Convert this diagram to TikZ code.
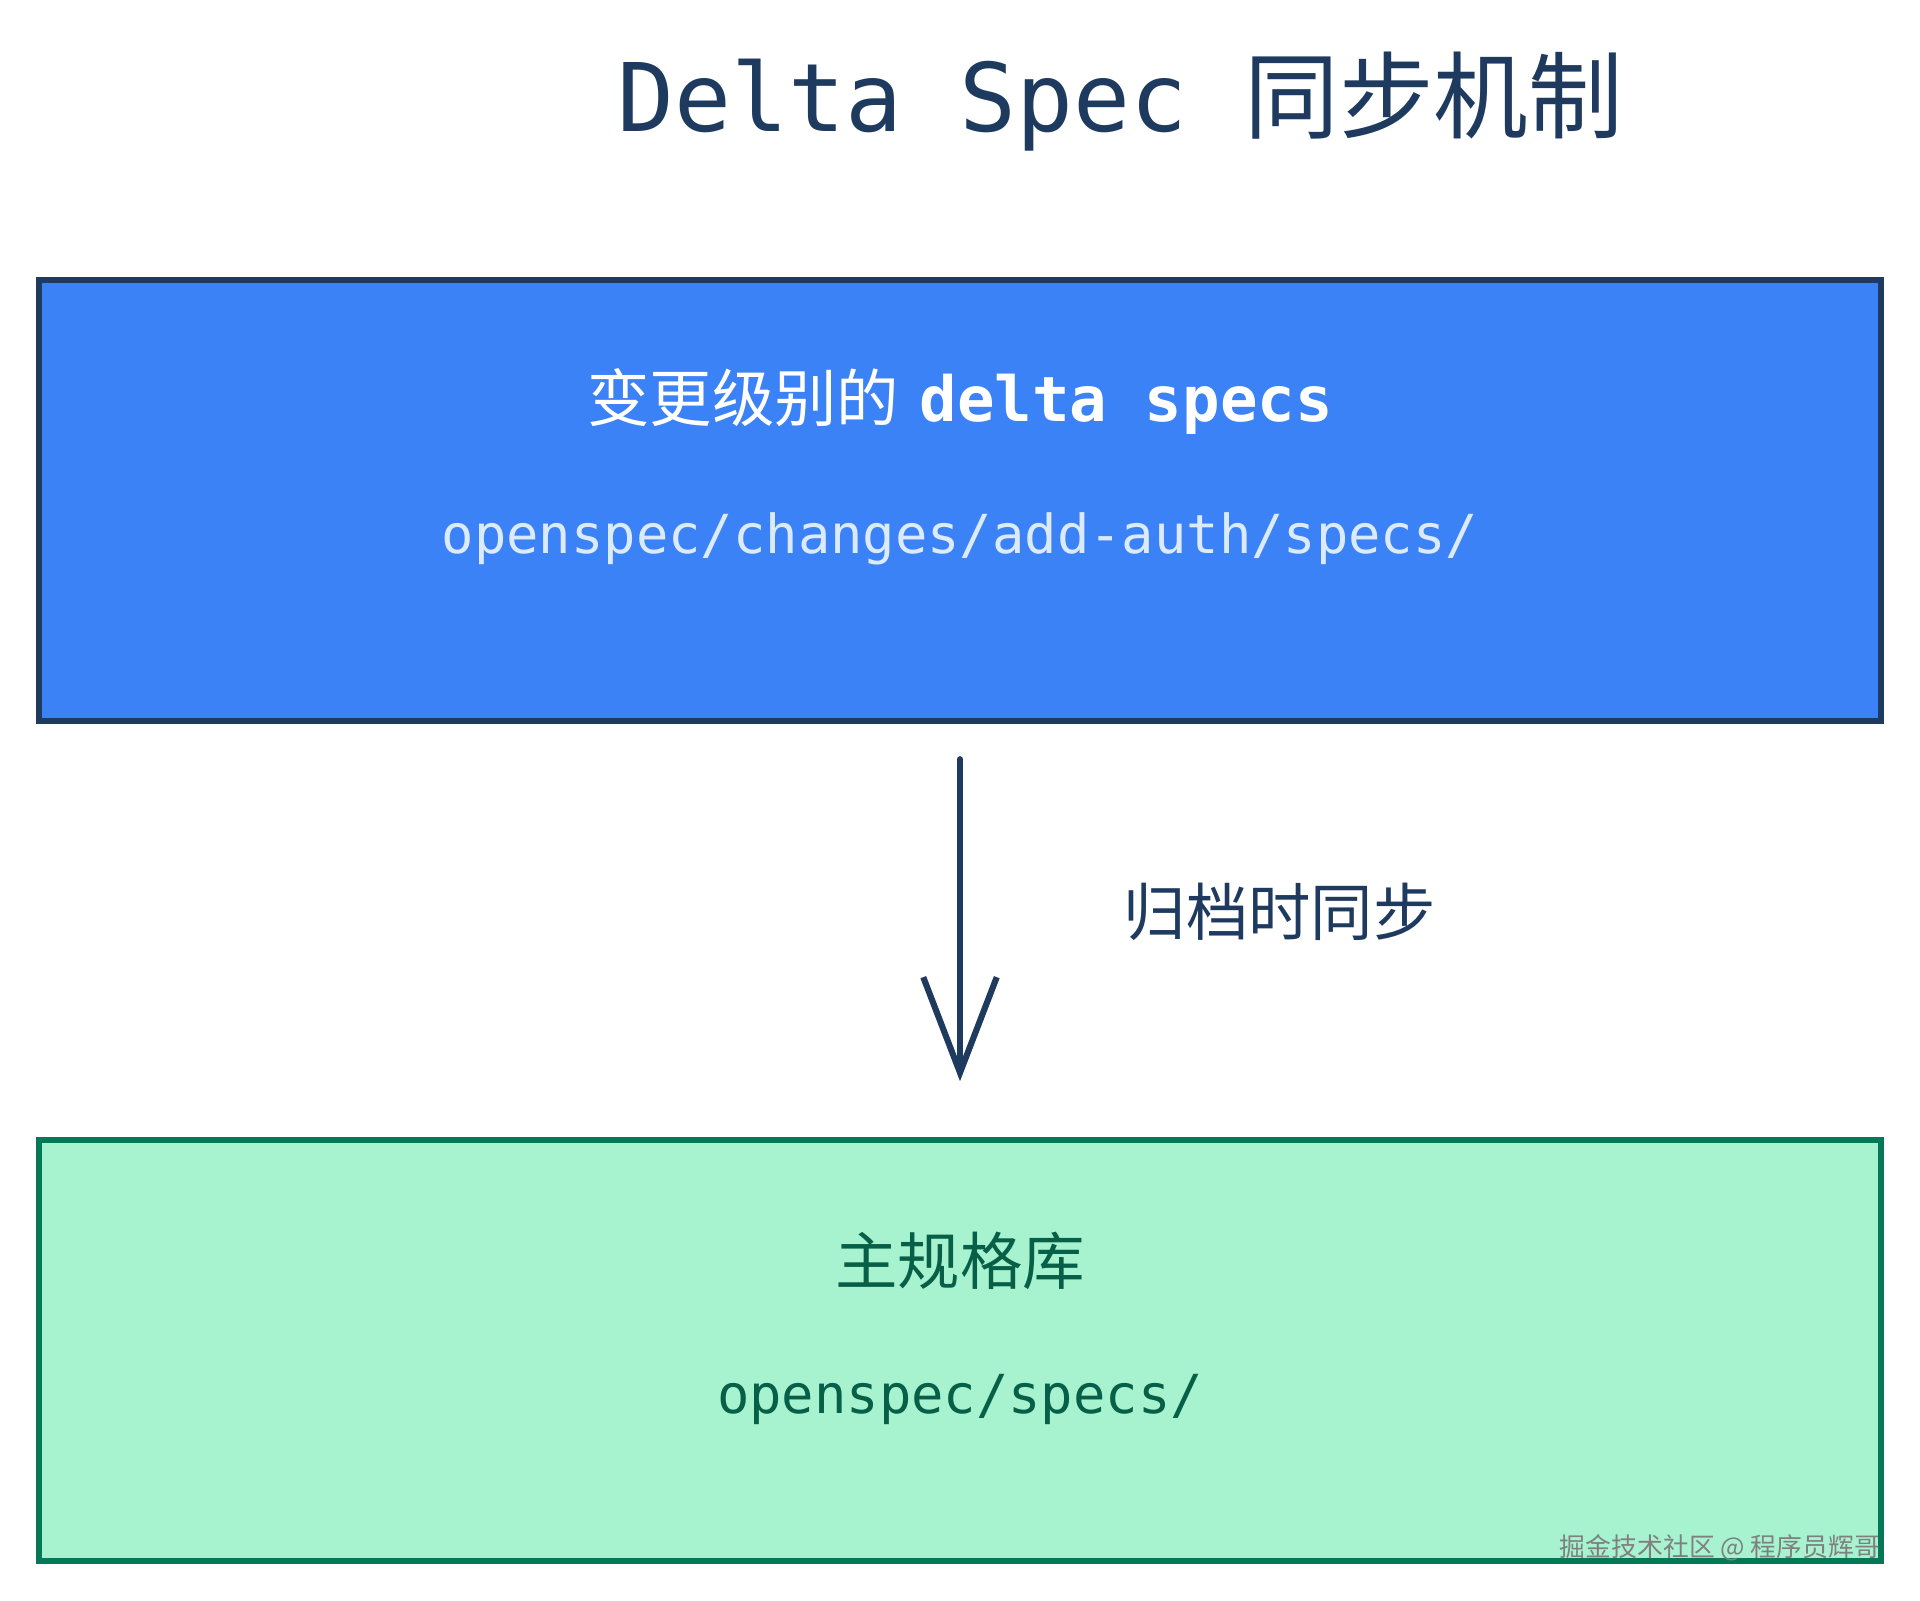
\documentclass[tikz,border=0pt]{standalone}
\usepackage{fontspec}
\setmonofont{DejaVu Sans Mono}
\newfontfamily\cjk{Noto Sans CJK SC}
\usetikzlibrary{arrows.meta}
\definecolor{navy}{HTML}{1E3A5F}
\definecolor{bluefill}{HTML}{3B82F6}
\definecolor{bluetext}{HTML}{DBEAFE}
\definecolor{greenfill}{HTML}{A7F3D0}
\definecolor{greenline}{HTML}{047857}
\definecolor{greentext}{HTML}{065F46}
\begin{document}
\begin{tikzpicture}
%%%%%%%%%%%%%%%%%%%%%%%%%%%%%%%%%%%%%%%%%%%%%%%%%%%%%%%%
% STYLE
\tikzstyle{box}=[rectangle,draw,line width=0.5mm,minimum width=15.04cm,minimum height=3.6cm]
\tikzstyle{txt}=[inner sep=0pt]

\tikzset{link/.style={->,>={Straight Barb[length=7.8mm,width=6mm,line width=0.5mm]},line width=0.5mm,line cap=round,draw=navy}}

\useasboundingbox (0,0) rectangle (15.68,13.07);

%%%%%%%%%%%%%%%%%%%%%%%%%%%%%%%%%%%%%%%%%%%%%%%%%%%%%%%%
% NODES
\node[txt,text=navy] (title) at (9.15,12.24) {\fontsize{22}{26}\selectfont\ttfamily Delta Spec {\cjk 同步机制}};

\node[box,draw=navy,fill=bluefill] (delta) at (7.84,8.985) {};
\node[txt,text=white] (deltaT) at (7.84,9.79) {\fontsize{14.5}{17}\selectfont{\cjk 变更级别的} \ttfamily\bfseries delta specs};
\node[txt,text=bluetext] (deltaP) at (7.84,8.67) {\fontsize{12.5}{15}\selectfont\ttfamily openspec/changes/add-auth/specs/};

\node[box,draw=greenline,fill=greenfill,minimum height=3.44cm] (main) at (7.84,2.04) {};
\node[txt,text=greentext] (mainT) at (7.84,2.77) {\fontsize{14.5}{17}\selectfont\cjk 主规格库};
\node[txt,text=greentext] (mainP) at (7.84,1.64) {\fontsize{12.5}{15}\selectfont\ttfamily openspec/specs/};

\node[txt,text=navy] (sync) at (10.45,5.62) {\fontsize{14.5}{17}\selectfont\cjk 归档时同步};

\node[txt,text=gray,anchor=east] (mark) at (15.36,0.43) {\fontsize{6}{8}\selectfont\cjk 掘金技术社区 @ 程序员辉哥};

%%%%%%%%%%%%%%%%%%%%%%%%%%%%%%%%%%%%%%%%%%%%%%%%%%%%%%%%
% LINKS
\draw[link] (delta.south |- 0,6.87) -- (main.north |- 0,4.24);

\end{tikzpicture}
\end{document}
